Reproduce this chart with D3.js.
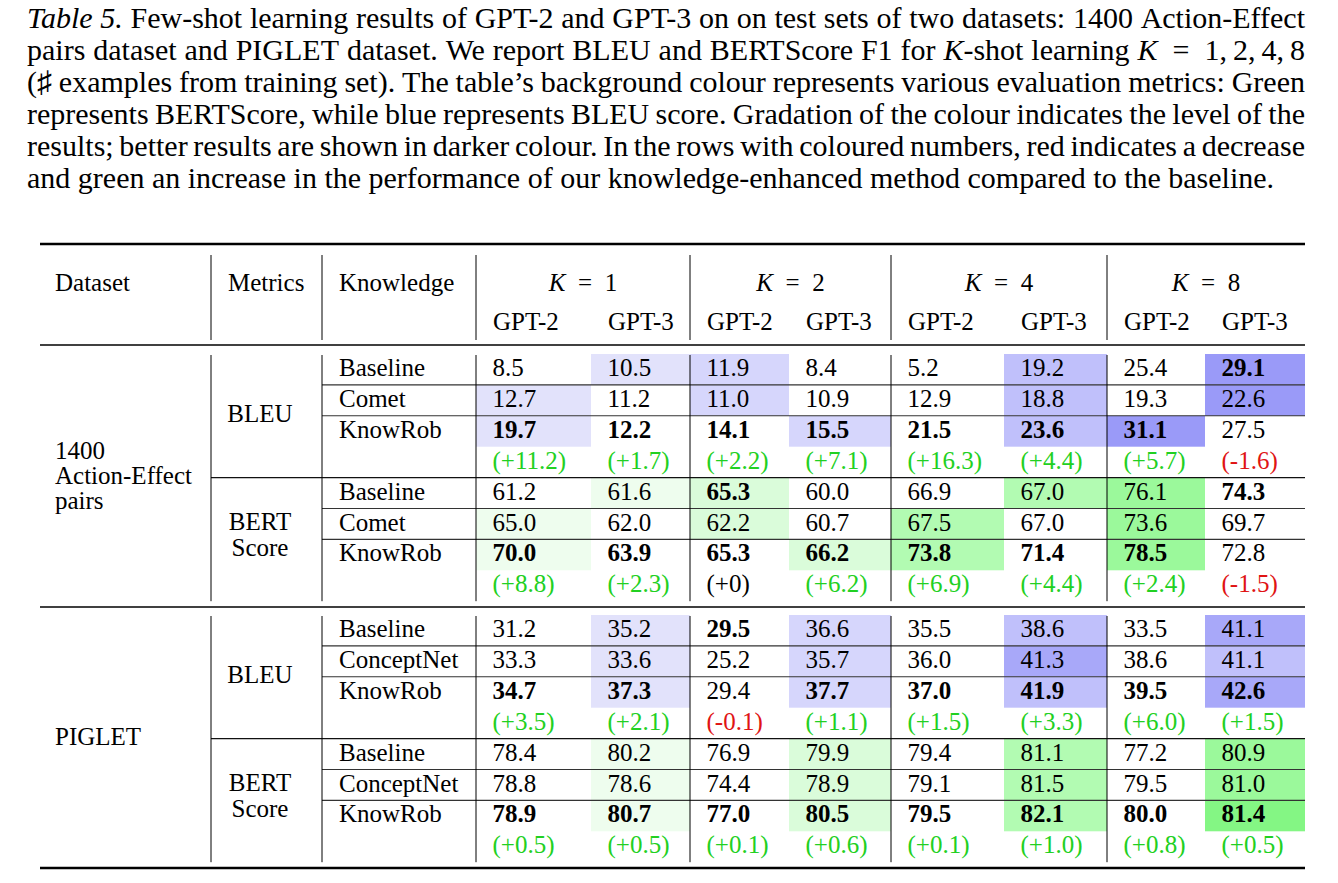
<!DOCTYPE html>
<html>
<head>
<meta charset="utf-8">
<script src="https://cdn.jsdelivr.net/npm/d3@7"></script>
<style>
body { margin: 0; background: #fff; }
svg text { font-family: "Liberation Serif", "Times New Roman", "DejaVu Serif", serif; fill: #000; }
</style>
</head>
<body>
<svg id="chart" width="1338" height="883"></svg>
<script>
// caption, one string per printed line; _x_ = italic
var captionLines = [
    "_Table_ _5._ Few-shot learning results of GPT-2 and GPT-3 on on test sets of two datasets: 1400 Action-Effect",
    "pairs dataset and PIGLET dataset. We report BLEU and BERTScore F1 for _K_-shot learning _K_\u2002=\u20021,\u20092,\u20094,\u20098",
    "(\u266F examples from training set). The table\u2019s background colour represents various evaluation metrics: Green",
    "represents BERTScore, while blue represents BLEU score. Gradation of the colour indicates the level of the",
    "results; better results are shown in darker colour. In the rows with coloured numbers, red indicates a decrease",
    "and green an increase in the performance of our knowledge-enhanced method compared to the baseline."
];

var kValues = [1, 2, 4, 8];
var models = ["GPT-2", "GPT-3"];
var headerLabels = ["Dataset", "Metrics", "Knowledge"];
var datasets = [["1400", "Action-Effect", "pairs"], ["PIGLET"]];
var metrics = [["BLEU"], ["BERT", "Score"]];
var knowledgeAE = ["Baseline", "Comet", "KnowRob"];
var knowledgePG = ["Baseline", "ConceptNet", "KnowRob"];

// values: rows = knowledge source, cols = K1 GPT-2, K1 GPT-3, K2 GPT-2, ... K8 GPT-3
var aeBleu = [
    [8.5, 10.5, 11.9, 8.4, 5.2, 19.2, 25.4, 29.1],
    [12.7, 11.2, 11.0, 10.9, 12.9, 18.8, 19.3, 22.6],
    [19.7, 12.2, 14.1, 15.5, 21.5, 23.6, 31.1, 27.5]];
var aeBleuDelta = [11.2, 1.7, 2.2, 7.1, 16.3, 4.4, 5.7, -1.6];
var aeBleuShade = [[0, 1, 2, 0, 0, 3, 0, 5], [1, 0, 2, 0, 0, 3, 0, 5], [1, 0, 0, 2, 0, 3, 5, 0]];
var aeBleuBold = [[0, 0, 0, 0, 0, 0, 0, 1], [0, 0, 0, 0, 0, 0, 0, 0], [1, 1, 1, 1, 1, 1, 1, 0]];

var aeBert = [
    [61.2, 61.6, 65.3, 60.0, 66.9, 67.0, 76.1, 74.3],
    [65.0, 62.0, 62.2, 60.7, 67.5, 67.0, 73.6, 69.7],
    [70.0, 63.9, 65.3, 66.2, 73.8, 71.4, 78.5, 72.8]];
var aeBertDelta = [8.8, 2.3, 0, 6.2, 6.9, 4.4, 2.4, -1.5];
var aeBertShade = [[0, 1, 2, 0, 0, 3, 4, 0], [1, 0, 2, 0, 3, 0, 4, 0], [1, 0, 0, 2, 3, 0, 4, 0]];
var aeBertBold = [[0, 0, 1, 0, 0, 0, 0, 1], [0, 0, 0, 0, 0, 0, 0, 0], [1, 1, 1, 1, 1, 1, 1, 0]];

var pgBleu = [
    [31.2, 35.2, 29.5, 36.6, 35.5, 38.6, 33.5, 41.1],
    [33.3, 33.6, 25.2, 35.7, 36.0, 41.3, 38.6, 41.1],
    [34.7, 37.3, 29.4, 37.7, 37.0, 41.9, 39.5, 42.6]];
var pgBleuDelta = [3.5, 2.1, -0.1, 1.1, 1.5, 3.3, 6.0, 1.5];
var pgBleuShade = [[0, 1, 0, 2, 0, 3, 0, 4], [0, 1, 0, 2, 0, 4, 0, 3], [0, 1, 0, 2, 0, 3, 0, 4]];
var pgBleuBold = [[0, 0, 1, 0, 0, 0, 0, 0], [0, 0, 0, 0, 0, 0, 0, 0], [1, 1, 0, 1, 1, 1, 1, 1]];

var pgBert = [
    [78.4, 80.2, 76.9, 79.9, 79.4, 81.1, 77.2, 80.9],
    [78.8, 78.6, 74.4, 78.9, 79.1, 81.5, 79.5, 81.0],
    [78.9, 80.7, 77.0, 80.5, 79.5, 82.1, 80.0, 81.4]];
var pgBertDelta = [0.5, 0.5, 0.1, 0.6, 0.1, 1.0, 0.8, 0.5];
var pgBertShade = [[0, 1, 0, 2, 0, 3, 0, 4], [0, 1, 0, 2, 0, 3, 0, 4], [0, 1, 0, 2, 0, 3, 0, 5]];
var pgBertBold = [[0, 0, 0, 0, 0, 0, 0, 0], [0, 0, 0, 0, 0, 0, 0, 0], [1, 1, 1, 1, 1, 1, 1, 1]];

var blueShades = ["none", "#e2e2fb", "#d6d6fc", "#c0c0fb", "#a8a8f9", "#9a9af8"];
var greenShades = ["none", "#eefdee", "#dafcda", "#b2fbb2", "#9bf99b", "#84f684"];
var upColor = "#22d022", downColor = "#e01414";

var fontSize = 25, capFont = 30;
var tableLeft = 40, tableRight = 1305;
var colEdges = [476, 591, 690, 789, 891, 1004, 1107, 1205, 1305];
var dividers = [211, 322, 476, 690, 891, 1107];
var rowH = 30.9;

var svg = d3.select("#chart");

// ---------- caption (justified) ----------
var capLeft = 27, capRight = 1305;
var cap = svg.append("g");
captionLines.forEach(function (line, li) {
    var y = 28 + li * 32;
    var words = line.split(" ");
    var nodes = words.map(function (w) {
        var t = cap.append("text").attr("y", y).attr("font-size", capFont);
        w.split("_").forEach(function (seg, si) {
            if (seg === "") return;
            t.append("tspan").attr("font-style", si % 2 === 1 ? "italic" : null).text(seg);
        });
        return t;
    });
    var widths = nodes.map(function (n) { return n.node().getComputedTextLength(); });
    var last = li === captionLines.length - 1;
    var gap = last ? capFont * 0.25 : (capRight - capLeft - d3.sum(widths)) / (nodes.length - 1);
    var x = capLeft;
    nodes.forEach(function (n, i) { n.attr("x", x); x += widths[i] + gap; });
});

// ---------- scales ----------
var colX = d3.scaleLinear().domain(d3.range(colEdges.length)).range(colEdges);

var blocks = [
    {top: 354, label: datasets[0], knowledge: knowledgeAE, parts: [
        {metric: metrics[0], values: aeBleu, delta: aeBleuDelta, shade: aeBleuShade, bold: aeBleuBold, colors: blueShades},
        {metric: metrics[1], values: aeBert, delta: aeBertDelta, shade: aeBertShade, bold: aeBertBold, colors: greenShades}]},
    {top: 615, label: datasets[1], knowledge: knowledgePG, parts: [
        {metric: metrics[0], values: pgBleu, delta: pgBleuDelta, shade: pgBleuShade, bold: pgBleuBold, colors: blueShades},
        {metric: metrics[1], values: pgBert, delta: pgBertDelta, shade: pgBertShade, bold: pgBertBold, colors: greenShades}]}
];

var g = svg.append("g");

// ---------- header ----------
var head = g.append("g").attr("font-size", fontSize);
head.append("text").attr("x", 55).attr("y", 291).text(headerLabels[0]);
head.append("text").attr("x", 228).attr("y", 291).text(headerLabels[1]);
head.append("text").attr("x", 339).attr("y", 291).text(headerLabels[2]);

kValues.forEach(function (k, ki) {
    var t = head.append("text")
        .attr("x", (colX(ki * 2) + colX(ki * 2 + 2)) / 2)
        .attr("y", 291)
        .attr("text-anchor", "middle");
    t.append("tspan").attr("font-style", "italic").text("K");
    t.append("tspan").text("\u2002=\u2002" + k);
    models.forEach(function (m, mi) {
        head.append("text").attr("x", colX(ki * 2 + mi) + 17).attr("y", 330).text(m);
    });
});

dividers.forEach(function (x) {
    g.append("line")
        .attr("x1", x).attr("x2", x).attr("y1", 255).attr("y2", 340)
        .attr("stroke", "#000").attr("stroke-width", 1);
});

function rule(y, x1, w, color) {
    g.append("line").attr("x1", x1).attr("x2", tableRight).attr("y1", y).attr("y2", y)
        .attr("stroke", color || "#000").attr("stroke-width", w);
}
rule(244, tableLeft, 2.4);
rule(345, tableLeft, 1.4);
rule(607, tableLeft, 1.4);
rule(868, tableLeft, 2.4);

function fmtDelta(d) {
    if (d === 0) return "(+0)";
    return "(" + (d > 0 ? "+" : "") + d.toFixed(1) + ")";
}

// ---------- body ----------
blocks.forEach(function (b) {
    var rowY = d3.scaleLinear().domain([0, 8]).range([b.top, b.top + rowH * 8]);
    var bg = g.append("g"), lines = g.append("g"), txt = g.append("g").attr("font-size", fontSize);

    b.parts.forEach(function (p, pi) {
        var r0 = pi * 4;
        // shaded cells + values
        p.values.forEach(function (row, ri) {
            row.forEach(function (v, ci) {
                var s = p.shade[ri][ci];
                if (s > 0) {
                    bg.append("rect")
                        .attr("x", colX(ci)).attr("y", rowY(r0 + ri))
                        .attr("width", colX(ci + 1) - colX(ci)).attr("height", rowY(1) - rowY(0))
                        .attr("fill", p.colors[s]);
                }
                txt.append("text")
                    .attr("x", colX(ci) + 16.5).attr("y", rowY(r0 + ri) + 22)
                    .attr("font-weight", p.bold[ri][ci] ? "bold" : null)
                    .text(v.toFixed(1));
            });
            txt.append("text").attr("x", 339).attr("y", rowY(r0 + ri) + 22).text(b.knowledge[ri]);
        });
        // delta row
        p.delta.forEach(function (d, ci) {
            txt.append("text")
                .attr("x", colX(ci) + 16.5).attr("y", rowY(r0 + 3) + 22)
                .style("fill", d > 0 ? upColor : (d < 0 ? downColor : "#000"))
                .text(fmtDelta(d));
        });
        // metric label
        var mt = p.metric.length === 1 ? [68] : [52, 78];
        p.metric.forEach(function (m, mi) {
            txt.append("text").attr("x", 260).attr("y", rowY(r0) + mt[mi])
                .attr("text-anchor", "middle").text(m);
        });
        // row separators
        [1, 2].forEach(function (r) {
            lines.append("line").attr("x1", 322).attr("x2", tableRight)
                .attr("y1", rowY(r0 + r)).attr("y2", rowY(r0 + r))
                .attr("stroke", "#333").attr("stroke-width", 1.1);
        });
        if (pi === 0) {
            lines.append("line").attr("x1", 211).attr("x2", tableRight)
                .attr("y1", rowY(4)).attr("y2", rowY(4))
                .attr("stroke", "#111").attr("stroke-width", 1.2);
        }
    });

    dividers.forEach(function (x) {
        lines.append("line")
            .attr("x1", x).attr("x2", x).attr("y1", rowY(0) + 1).attr("y2", rowY(8))
            .attr("stroke", "#000").attr("stroke-width", 1);
    });

    // dataset label, vertically centred in block
    var mid = (rowY(0) + rowY(8)) / 2;
    b.label.forEach(function (s, i) {
        txt.append("text").attr("x", 55)
            .attr("y", mid + 6 + (i - (b.label.length - 1) / 2) * 25)
            .text(s);
    });
});
</script>
</body>
</html>
